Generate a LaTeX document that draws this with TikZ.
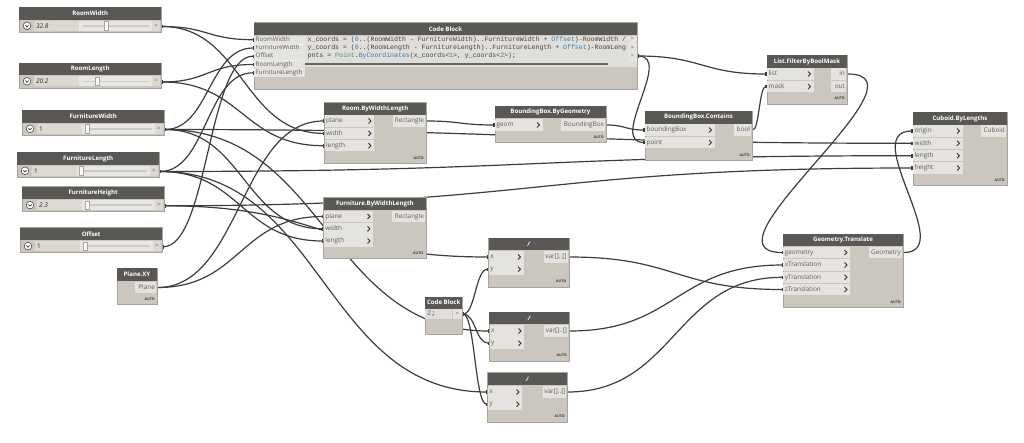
\documentclass[tikz,border=0pt]{standalone}
\usepackage{fontspec}
\setmainfont{Open Sans}
\setmonofont{Liberation Mono}
\usetikzlibrary{calc,arrows.meta}
\pgfdeclarelayer{wires}
\pgfsetlayers{wires,main}
\definecolor{hdrc}{HTML}{5A5855}
\definecolor{bodyc}{HTML}{CBC7BF}
\definecolor{rowc}{HTML}{E5E3DF}
\definecolor{edgec}{HTML}{A8A49C}
\definecolor{wirec}{HTML}{3C3C3C}
\definecolor{txtc}{HTML}{5E5E5E}
\definecolor{numc}{HTML}{2A7FC4}
\definecolor{clsc}{HTML}{2B9A9A}
\definecolor{fldc}{HTML}{DCD9D2}
\definecolor{trkc}{HTML}{E9E7E3}
\tikzset{
  x=1pt,y=-1pt,
  wire/.style={draw=wirec,line width=1.2pt,{Rectangle[length=1.5pt,width=3.2pt]}-{Rectangle[length=1.5pt,width=3.2pt]}},
  dbody/.style={fill=bodyc,draw=edgec,line width=.7pt,inner sep=0pt,anchor=north west},
  dhead/.style={fill=hdrc,inner sep=0pt,anchor=north west,text=white,font=\fontsize{6.1}{8}\selectfont\bfseries},
  rowl/.style={fill=rowc,inner xsep=1.5pt,inner ysep=0pt,anchor=west,minimum height=11.5pt,text=txtc,align=left,font=\fontsize{6.4}{8}\selectfont,text height=5pt,text depth=1.5pt},
  rowr/.style={fill=rowc,inner xsep=1.5pt,inner ysep=0pt,anchor=east,minimum height=11.5pt,text=txtc,align=right,font=\fontsize{6.4}{8}\selectfont,text height=5pt,text depth=1.5pt},
  cbrow/.style={fill=rowc,inner xsep=1.5pt,inner ysep=0pt,anchor=west,minimum height=8pt,text=txtc,align=left,font=\fontsize{6.2}{7}\selectfont,text height=4.6pt,text depth=1.4pt},
  autol/.style={inner sep=0pt,anchor=east,text=black!75,font=\fontsize{3.6}{4}\selectfont\bfseries},
  codel/.style={inner sep=0pt,anchor=west,text=black!75,font=\fontsize{6.55}{8}\selectfont\ttfamily},
  chev/.style={draw=black!80,line width=.9pt},
  sgt/.style={inner sep=0pt,text=txtc,font=\fontsize{5.5}{6}\selectfont},
}
% name x0 y0 x1 y1 headerbottom title
\newcommand{\dnode}[7]{%
  \pgfmathsetmacro\dW{#4-#2}\pgfmathsetmacro\dH{#5-#3}\pgfmathsetmacro\dT{#6-#3}%
  \node[dbody,minimum width=\dW pt,minimum height=\dH pt] (#1) at (#2,#3) {};
  \node[dhead,minimum width=\dW pt,minimum height=\dT pt] (#1-h) at (#2,#3) {#7};
}
% name x0 y x1 label : input row with chevron
\newcommand{\inrow}[5]{%
  \pgfmathsetmacro\dW{#4-#2-3}%
  \node[rowl,text width=\dW pt] (#1) at (#2,#3) {#5};
  \draw[chev] ($(#2,#3)+(#4-#2-5.5,-2.5)$) -- ++(2.4,2.5) -- ++(-2.4,2.5);
}
% name x0 y x1 label : output row
\newcommand{\outrow}[5]{%
  \pgfmathsetmacro\dW{#4-#2-3}%
  \node[rowr,text width=\dW pt] (#1) at (#4,#3) {#5};
}
\newcommand{\autotag}[3]{\node[autol] (#1) at (#2,#3) {AUTO};}
% name x y(top) title value thumbx
\newcommand{\slidernode}[6]{%
  \pgfmathsetmacro\xa{#2+142}\pgfmathsetmacro\ya{#3+25}\pgfmathsetmacro\yb{#3+12.5}%
  \dnode{#1}{#2}{#3}{\xa}{\ya}{\yb}{#4}
  \fill[fldc] (#2+15,\yb+1) rectangle (#2+60,\ya-1.5);
  \fill[trkc] (#2+60,\yb+1) rectangle (#2+133,\ya-1.5);
  \fill[fldc] (#2+133,\yb+1) rectangle (#2+141,\ya-1.5);
  \fill[white!80!black] (#2+64,\yb+5.6) rectangle (#2+130,\yb+7);
  \fill[white,draw=edgec,line width=.4pt] (#6-2,\yb+2) rectangle (#6+2,\yb+10.5);
  \draw[fill=white,draw=black!70,line width=.6pt] (#2+8,\yb+6.3) circle (3.8);
  \draw[draw=black!80,line width=.7pt] (#2+6.4,\yb+5.6) -- (#2+8,\yb+7.4) -- (#2+9.6,\yb+5.6);
  \node[inner sep=0pt,anchor=west,text=black!85,font=\fontsize{6.4}{8}\selectfont\itshape] (#1-v) at (#2+17,\yb+6.3) {#5};
  \node[sgt,anchor=center] (#1-g) at (#2+137,\yb+6.3) {>};
  \coordinate (#1-o) at (\xa,\yb+7);
}
\newcommand{\wire}[2]{\begin{pgfonlayer}{wires}\draw[wire] let \p1=(#1),\p2=(#2),\n1={0.5*(\x2-\x1)} in (\p1) .. controls +(\n1,0pt) and +(-\n1,0pt) .. (\p2);\end{pgfonlayer}}
\newcommand{\loopwire}[3]{\begin{pgfonlayer}{wires}\draw[wire] (#1) .. controls +(#3pt,0pt) and +(-#3pt,0pt) .. (#2);\end{pgfonlayer}}
\begin{document}
\begin{tikzpicture}
\useasboundingbox (0,0) rectangle (1024,442);
% sliders
\slidernode{rw}{19}{7}{RoomWidth}{32.8}{105.7}
\slidernode{rl}{19}{62.5}{RoomLength}{20.2}{96.7}
\slidernode{fw}{22}{110}{FurnitureWidth}{\upshape 1}{86.7}
\slidernode{fl}{17}{152}{FurnitureLength}{\upshape 1}{81}
\slidernode{fh}{22}{186.3}{FurnitureHeight}{2.3}{87.3}
\slidernode{of}{20}{227.3}{Offset}{\upshape 1}{84.7}
% Plane.XY
\dnode{pl}{116.5}{268}{157}{304}{280.5}{Plane.XY}
\outrow{pl-o}{135}{287.5}{156.6}{Plane}
\autotag{pl-a}{155}{299.5}
% Code block
\dnode{cb}{253.5}{22.3}{637}{89.3}{35}{Code Block}
\fill[fldc!50!rowc] (305,35.5) rectangle (637,67);
\node[cbrow,text width=48pt] (cb-rw) at (254,39.7) {RoomWidth};
\node[cbrow,text width=48pt] (cb-fw) at (254,48) {FurnitureWidth};
\node[cbrow,text width=48pt] (cb-of) at (254,56.2) {Offset};
\node[cbrow,text width=48pt] (cb-rl) at (254,64.5) {RoomLength};
\node[cbrow,text width=48pt] (cb-fl) at (254,72.8) {FurnitureLength};
\draw[black!8,line width=.4pt] (254,44) -- (305,44) (254,60.3) -- (305,60.3);
\node[codel] (cb-l1) at (307.5,39.7) {x\_coords = (\textcolor{numc}{0}..(RoomWidth - FurnitureWidth)..FurnitureWidth + \textcolor{numc}{Offset})-RoomWidth /};
\node[codel] (cb-l2) at (307.5,48) {y\_coords = (\textcolor{numc}{0}..(RoomLength - FurnitureLength)..FurnitureLength + \textcolor{numc}{Offset})-RoomLeng};
\node[codel] (cb-l3) at (307.5,56.2) {pnts = \textcolor{clsc}{Point}.\textcolor{numc}{ByCoordinates}(x\_coords<\textcolor{numc}{1}>, y\_coords<\textcolor{numc}{2}>);};
\fill[black!60] (305,63.2) rectangle (608,65.2);
\fill[rowc] (628,35.5) rectangle (637,60.5);
\node[sgt,anchor=center] (cb-g1) at (632.5,39.3) {>};
\node[sgt,anchor=center] (cb-g2) at (632.5,47.7) {>};
\node[sgt,anchor=center] (cb-g3) at (632.5,56) {>};
\coordinate (cb-o3) at (637,56);
% Room.ByWidthLength
\dnode{ro}{324}{102.3}{426}{163.3}{114.5}{Room.ByWidthLength}
\inrow{ro-p}{324.4}{121}{374}{plane}
\inrow{ro-w}{324.4}{133.4}{374}{width}
\inrow{ro-l}{324.4}{145.7}{374}{length}
\outrow{ro-r}{393}{121}{425.6}{Rectangle}
\autotag{ro-a}{424}{158.5}
% BoundingBox.ByGeometry
\dnode{bg}{494.5}{106}{606}{142}{118}{BoundingBox.ByGeometry}
\inrow{bg-g}{494.9}{125}{542.5}{geom}
\outrow{bg-b}{561}{125}{605.6}{BoundingBox}
\autotag{bg-a}{604}{137.5}
% BoundingBox.Contains
\dnode{bc}{644.5}{111}{752}{160}{123.3}{BoundingBox.Contains}
\inrow{bc-b}{644.9}{130}{714.5}{boundingBox}
\inrow{bc-p}{644.9}{142.5}{714.5}{point}
\outrow{bc-o}{734}{130}{751.6}{bool}
\autotag{bc-a}{750}{155}
% List.FilterByBoolMask
\dnode{lf}{766.5}{55}{847}{103.5}{68}{List.FilterByBoolMask}
\inrow{lf-l}{766.9}{74}{813.5}{list}
\inrow{lf-m}{766.9}{86.5}{813.5}{mask}
\outrow{lf-i}{831.5}{74}{846.6}{in}
\outrow{lf-u}{831.5}{86.5}{846.6}{out}
\autotag{lf-a}{845}{98.5}
% Cuboid.ByLengths
\dnode{cu}{912.5}{112}{1007}{185.3}{124.7}{Cuboid.ByLengths}
\inrow{cu-o}{912.9}{131}{962.5}{origin}
\inrow{cu-w}{912.9}{143.3}{962.5}{width}
\inrow{cu-l}{912.9}{155.7}{962.5}{length}
\inrow{cu-h}{912.9}{168}{962.5}{height}
\outrow{cu-c}{981}{131}{1006.6}{Cuboid}
\autotag{cu-a}{1005}{180.5}
% Furniture.ByWidthLength
\dnode{fu}{323.3}{197.3}{426}{258.3}{210}{Furniture.ByWidthLength}
\inrow{fu-p}{323.7}{216.5}{373}{plane}
\inrow{fu-w}{323.7}{228.8}{373}{width}
\inrow{fu-l}{323.7}{241}{373}{length}
\outrow{fu-r}{392}{216.5}{425.6}{Rectangle}
\autotag{fu-a}{423.5}{253.3}
% Divisions
\dnode{da}{488.3}{237.5}{568.5}{286.7}{250}{\itshape /}
\inrow{da-x}{488.7}{257}{523.5}{x}
\inrow{da-y}{488.7}{269.2}{523.5}{y}
\outrow{da-v}{544}{257}{568.1}{var[]..[]}
\autotag{da-a}{566.5}{281.5}
\dnode{db}{489}{311.5}{569}{360.5}{324}{\itshape /}
\inrow{db-x}{489.4}{331}{524}{x}
\inrow{db-y}{489.4}{343.2}{524}{y}
\outrow{db-v}{544.5}{331}{568.6}{var[]..[]}
\autotag{db-a}{567}{355.5}
\dnode{dc}{487.3}{372.3}{567}{421.5}{385}{\itshape /}
\inrow{dc-x}{487.7}{392}{522}{x}
\inrow{dc-y}{487.7}{404.2}{522}{y}
\outrow{dc-v}{543}{392}{566.6}{var[]..[]}
\autotag{dc-a}{565}{416.5}
% small code block
\dnode{sc}{425}{296.5}{462}{333.5}{308.5}{Code Block}
\fill[fldc!50!rowc] (425.4,309) rectangle (452,318.5);
\fill[rowc] (453,309) rectangle (461.6,318.5);
\node[codel,font=\fontsize{7}{8}\selectfont\ttfamily] (sc-t) at (427,313.8) {\textcolor{numc}{2};};
\node[sgt,anchor=center] (sc-g) at (457.3,313.8) {>};
\coordinate (sc-o) at (462,314);
% Geometry.Translate
\dnode{gt}{782.7}{233.5}{903}{307.3}{246}{Geometry.Translate}
\inrow{gt-g}{783.1}{252.5}{850}{geometry}
\inrow{gt-x}{783.1}{265}{850}{xTranslation}
\inrow{gt-y}{783.1}{277.3}{850}{yTranslation}
\inrow{gt-z}{783.1}{289.5}{850}{zTranslation}
\outrow{gt-o}{869}{252.5}{902.6}{Geometry}
\autotag{gt-a}{901}{302}
% wires
\wire{rw-o}{cb-rw.west}
\wire{rw-o}{ro-w.west}
\wire{rl-o}{cb-rl.west}
\wire{rl-o}{ro-l.west}
\wire{fw-o}{cb-fw.west}
\wire{fw-o}{fu-w.west}
\wire{fw-o}{cu-w.west}
\wire{fw-o}{db-x.west}
\wire{fl-o}{cb-fl.west}
\wire{fl-o}{fu-l.west}
\wire{fl-o}{cu-l.west}
\wire{fl-o}{dc-x.west}
\wire{fh-o}{cu-h.west}
\wire{fh-o}{da-x.west}
\wire{of-o}{cb-of.west}
\wire{pl-o.east}{ro-p.west}
\wire{pl-o.east}{fu-p.west}
\wire{cb-o3}{lf-l.west}
\loopwire{cb-o3}{bc-p.west}{37}
\wire{ro-r.east}{bg-g.west}
\wire{bg-b.east}{bc-b.west}
\wire{bc-o.east}{lf-m.west}
\wire{sc-o}{da-y.west}
\wire{sc-o}{db-y.west}
\wire{sc-o}{dc-y.west}
\loopwire{lf-i.east}{gt-g.west}{90}
\loopwire{gt-o.east}{cu-o.west}{55}
\wire{da-v.east}{gt-z.west}
\wire{db-v.east}{gt-x.west}
\wire{dc-v.east}{gt-y.west}
\end{tikzpicture}
\end{document}
